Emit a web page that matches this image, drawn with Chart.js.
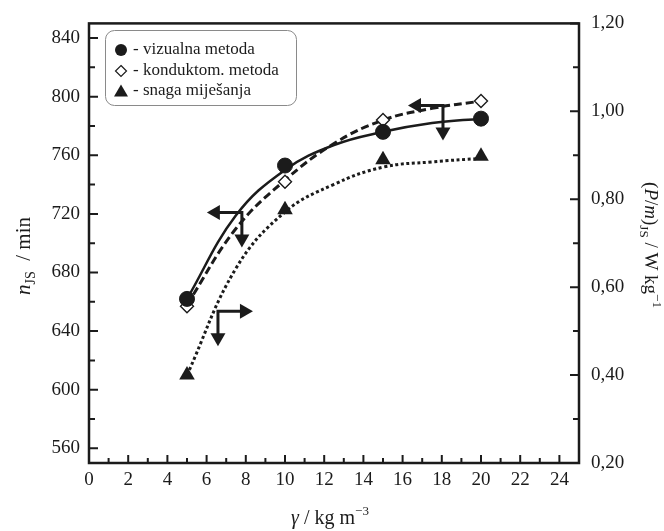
<!DOCTYPE html>
<html>
<head>
<meta charset="utf-8">
<script src="https://cdn.jsdelivr.net/npm/chart.js@4.4.0/dist/chart.umd.min.js"></script>
<style>
  body { margin: 0; background: #fff; }
  #wrap { width: 664px; height: 531px; }
</style>
</head>
<body>
<div id="wrap"><canvas id="chart"></canvas></div>
<script>
// measured points
const gamma = [5, 10, 15, 20];
const nVizualna = [662, 753, 776, 785];
const nKonduktom = [657, 742, 784, 797];
const pmSnaga = [0.40, 0.776, 0.89, 0.898];

// fitted curves, read at these gamma values
const fitGamma = [5, 7.5, 10, 12.5, 15, 17.5, 20];
const fitVizualna = [662, 719, 750, 767, 776, 782, 785];
const fitKonduktom = [658, 710, 743, 768, 784, 792, 797];
const fitSnaga = [0.40, 0.643, 0.771, 0.834, 0.873, 0.885, 0.893];

// axis ticks
const xTicks = [0, 2, 4, 6, 8, 10, 12, 14, 16, 18, 20, 22, 24];
const nTicks = [560, 600, 640, 680, 720, 760, 800, 840];
const pmTicks = [0.2, 0.4, 0.6, 0.8, 1.0, 1.2];

const legendLabels = ['- vizualna metoda', '- konduktom. metoda', '- snaga miješanja'];

// arrows telling which axis a curve belongs to
const axisArrows = [
  { x: 7.8, y: 721, axis: 'y', dir: -1 },
  { x: 18.06, y: 794, axis: 'y', dir: -1 },
  { x: 6.58, y: 0.545, axis: 'y1', dir: 1 }
];

const INK = '#1b1b1b';
const SERIF = '"Liberation Serif", "Times New Roman", serif';

const pts = (xs, ys) => xs.map((x, i) => ({ x: x, y: ys[i] }));

function drawRich(ctx, parts, x, y, rot) {
  ctx.save();
  ctx.translate(x, y);
  ctx.rotate(rot);
  ctx.textBaseline = 'alphabetic';
  ctx.textAlign = 'left';
  let total = 0;
  parts.forEach(p => { ctx.font = p.font; total += ctx.measureText(p.t).width; });
  let cx = -total / 2;
  parts.forEach(p => {
    ctx.font = p.font;
    ctx.fillText(p.t, cx, p.dy || 0);
    cx += ctx.measureText(p.t).width;
  });
  ctx.restore();
}

function arrowHead(ctx, x, y, dx, dy) {
  // tip at (x, y), pointing along (dx, dy)
  const L = 13, W = 7.5;
  ctx.beginPath();
  ctx.moveTo(x, y);
  ctx.lineTo(x - dx * L - dy * W, y - dy * L + dx * W);
  ctx.lineTo(x - dx * L + dy * W, y - dy * L - dx * W);
  ctx.closePath();
  ctx.fill();
}

const framePlugin = {
  id: 'frame',
  afterDatasetsDraw(chart) {
    const ctx = chart.ctx;
    const sx = chart.scales.x;
    ctx.save();
    ctx.strokeStyle = INK;
    ctx.fillStyle = INK;
    ctx.lineWidth = 3;
    axisArrows.forEach(a => {
      const px = sx.getPixelForValue(a.x);
      const py = chart.scales[a.axis].getPixelForValue(a.y);
      const hx = px + a.dir * 35;
      const vy = py + 35;
      ctx.beginPath();
      ctx.moveTo(px, py);
      ctx.lineTo(hx - a.dir * 10, py);
      ctx.moveTo(px, py - 1.5);
      ctx.lineTo(px, vy - 10);
      ctx.stroke();
      arrowHead(ctx, hx, py, a.dir, 0);
      arrowHead(ctx, px, vy, 0, 1);
    });
    ctx.restore();
  },
  afterDraw(chart) {
    const ctx = chart.ctx;
    const a = chart.chartArea;
    const sx = chart.scales.x, sy = chart.scales.y, sy1 = chart.scales.y1;
    ctx.save();
    ctx.strokeStyle = INK;
    ctx.fillStyle = INK;

    // frame
    ctx.lineWidth = 2.5;
    ctx.strokeRect(a.left, a.top, a.right - a.left, a.bottom - a.top);

    // inward ticks, minor ones halfway between labels
    ctx.lineWidth = 2;
    ctx.beginPath();
    for (let i = 0; i < xTicks.length; i++) {
      const v = xTicks[i];
      const p = sx.getPixelForValue(v);
      ctx.moveTo(p, a.bottom); ctx.lineTo(p, a.bottom - 8);
      const m = sx.getPixelForValue(v + 1);
      if (m < a.right - 2) { ctx.moveTo(m, a.bottom); ctx.lineTo(m, a.bottom - 5); }
    }
    for (let i = 0; i < nTicks.length; i++) {
      const p = sy.getPixelForValue(nTicks[i]);
      ctx.moveTo(a.left, p); ctx.lineTo(a.left + 9, p);
      if (i < nTicks.length - 1) {
        const m = sy.getPixelForValue((nTicks[i] + nTicks[i + 1]) / 2);
        ctx.moveTo(a.left, m); ctx.lineTo(a.left + 6, m);
      }
    }
    for (let i = 0; i < pmTicks.length; i++) {
      const p = sy1.getPixelForValue(pmTicks[i]);
      ctx.moveTo(a.right, p); ctx.lineTo(a.right - 9, p);
      if (i < pmTicks.length - 1) {
        const m = sy1.getPixelForValue((pmTicks[i] + pmTicks[i + 1]) / 2);
        ctx.moveTo(a.right, m); ctx.lineTo(a.right - 6, m);
      }
    }
    ctx.stroke();

    // legend box
    const bx = 105, by = 30, bw = 191, bh = 75, r = 9;
    ctx.lineWidth = 1;
    ctx.strokeStyle = '#8a8a8a';
    ctx.beginPath();
    ctx.roundRect(bx + 0.5, by + 0.5, bw, bh, r);
    ctx.stroke();
    ctx.strokeStyle = INK;
    const mx = 121;
    const rows = [50, 71, 91];
    // filled circle
    ctx.beginPath(); ctx.arc(mx, rows[0], 6, 0, Math.PI * 2); ctx.fill();
    // open diamond
    ctx.lineWidth = 1.2;
    ctx.beginPath();
    ctx.moveTo(mx, rows[1] - 5.5); ctx.lineTo(mx + 5.5, rows[1]);
    ctx.lineTo(mx, rows[1] + 5.5); ctx.lineTo(mx - 5.5, rows[1]);
    ctx.closePath(); ctx.stroke();
    // filled triangle
    ctx.beginPath();
    ctx.moveTo(mx, rows[2] - 6.5); ctx.lineTo(mx + 7, rows[2] + 5.5); ctx.lineTo(mx - 7, rows[2] + 5.5);
    ctx.closePath(); ctx.fill();
    ctx.font = '17px ' + SERIF;
    ctx.textBaseline = 'middle';
    ctx.textAlign = 'left';
    legendLabels.forEach((t, i) => ctx.fillText(t, 133, rows[i]));

    // axis titles
    const up = '21px ' + SERIF, it = 'italic 21px ' + SERIF, sub = '14px ' + SERIF;
    drawRich(ctx, [
      { t: 'n', font: it }, { t: 'JS', font: sub, dy: 5 }, { t: '  / min', font: up }
    ], 30, 256, -Math.PI / 2);

    const up2 = '20px ' + SERIF, it2 = 'italic 20px ' + SERIF, sub2 = '13px ' + SERIF;
    const up3 = '19px ' + SERIF, it3 = 'italic 19px ' + SERIF;
    drawRich(ctx, [
      { t: '(', font: up3 }, { t: 'P', font: it3 }, { t: '/', font: up3 }, { t: 'm', font: it3 },
      { t: ')', font: up3 }, { t: 'JS', font: sub2, dy: 5 }, { t: ' / W kg', font: up3 },
      { t: '\u22121', font: sub2, dy: -8 }
    ], 645, 245, Math.PI / 2);

    drawRich(ctx, [
      { t: '\u03b3', font: it2 }, { t: ' / kg m', font: up2 }, { t: '\u22123', font: sub2, dy: -9 }
    ], 330, 524, 0);

    ctx.restore();
  }
};

const tickFont = { family: SERIF, size: 19 };

new Chart(document.getElementById('chart'), {
  type: 'line',
  data: {
    datasets: [
      {
        label: 'vizualna metoda',
        data: pts(gamma, nVizualna),
        yAxisID: 'y',
        showLine: false,
        pointStyle: 'circle',
        pointRadius: 7.5,
        pointBorderWidth: 1,
        pointBackgroundColor: INK,
        pointBorderColor: INK
      },
      {
        label: 'konduktom. metoda',
        data: pts(gamma, nKonduktom),
        yAxisID: 'y',
        showLine: false,
        pointStyle: 'rectRot',
        pointRadius: 6.5,
        pointBorderWidth: 1.4,
        pointBackgroundColor: '#fff',
        pointBorderColor: INK
      },
      {
        label: 'snaga miješanja',
        data: pts(gamma, pmSnaga),
        yAxisID: 'y1',
        showLine: false,
        pointStyle: 'triangle',
        pointRadius: 9,
        pointBorderWidth: 0,
        pointBackgroundColor: INK,
        pointBorderColor: INK
      },
      {
        data: pts(fitGamma, fitVizualna),
        yAxisID: 'y',
        borderColor: INK,
        borderWidth: 2.5,
        tension: 0.4,
        pointRadius: 0
      },
      {
        data: pts(fitGamma, fitKonduktom),
        yAxisID: 'y',
        borderColor: INK,
        borderWidth: 3,
        borderDash: [8, 4],
        tension: 0.4,
        pointRadius: 0
      },
      {
        data: pts(fitGamma, fitSnaga),
        yAxisID: 'y1',
        borderColor: INK,
        borderWidth: 3,
        borderDash: [3, 2.6],
        tension: 0.4,
        pointRadius: 0
      }
    ]
  },
  options: {
    responsive: true,
    maintainAspectRatio: false,
    animation: false,
    layout: { padding: { top: 20, right: 0, left: 0, bottom: 0 } },
    plugins: {
      legend: { display: false },
      tooltip: { enabled: false }
    },
    scales: {
      x: {
        type: 'linear',
        min: 0,
        max: 25,
        grid: { display: false, drawTicks: false },
        border: { display: false },
        ticks: { font: tickFont, color: INK, padding: 6, maxRotation: 0 },
        afterBuildTicks: s => { s.ticks = xTicks.map(v => ({ value: v })); },
        afterFit: s => { s.height = 68; }
      },
      y: {
        position: 'left',
        min: 550,
        max: 850,
        grid: { display: false, drawTicks: false },
        border: { display: false },
        ticks: { font: tickFont, color: INK, padding: 9 },
        afterBuildTicks: s => { s.ticks = nTicks.map(v => ({ value: v })); },
        afterFit: s => { s.width = 89; }
      },
      y1: {
        position: 'right',
        min: 0.2,
        max: 1.2,
        grid: { display: false, drawTicks: false },
        border: { display: false },
        ticks: {
          font: tickFont, color: INK, padding: 12,
          callback: v => v.toFixed(2).replace('.', ',')
        },
        afterBuildTicks: s => { s.ticks = pmTicks.map(v => ({ value: v })); },
        afterFit: s => { s.width = 85; }
      }
    }
  },
  plugins: [framePlugin]
});
</script>
</body>
</html>
